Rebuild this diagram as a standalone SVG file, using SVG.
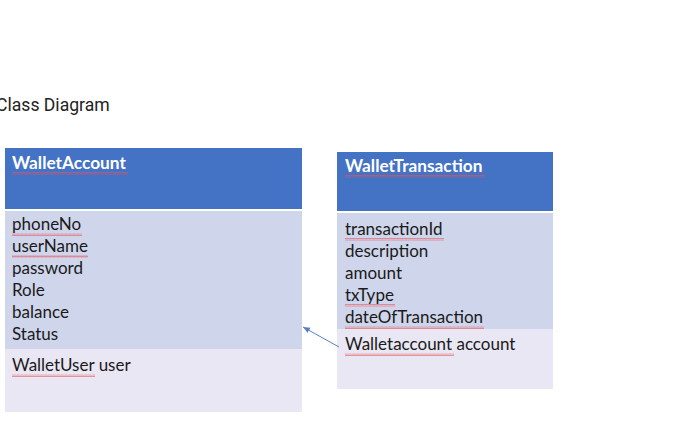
<svg xmlns="http://www.w3.org/2000/svg" width="676" height="426" viewBox="0 0 676 426">
<defs>
<style>
.t{font-family:Lato,"Liberation Sans",sans-serif;font-size:17px;fill:#1a1a1a}
.h{font-family:Lato,"Liberation Sans",sans-serif;font-size:17.3px;font-weight:bold;fill:#ffffff}
.hd{fill:#4472c4}
.at{fill:#cfd5ea}
.op{fill:#e9e7f3}
.sq{fill:url(#squig)}
.title{font-family:Roboto,"Liberation Sans",sans-serif;font-size:17.6px;fill:#222}
</style>
<pattern id="squig" width="4" height="3" patternUnits="userSpaceOnUse">
<path d="M0 2.5 L1 0.5 L2 2.5 L3 0.5 L4 2.5" fill="none" stroke="#e8555a" stroke-width="0.6"/>
</pattern>
<marker id="arr" markerWidth="8" markerHeight="8" refX="7" refY="4" orient="auto" markerUnits="userSpaceOnUse">
<path d="M0 1 L7 4 L0 7 Z" fill="#5b7fc4"/>
</marker>
</defs>
<rect width="676" height="426" fill="#ffffff"/>
<text class="title" x="-4" y="111">Class Diagram</text>

<g id="WalletAccount">
<rect class="hd" x="5" y="148" width="297" height="61"/>
<rect class="at" x="5" y="211" width="297" height="138"/>
<rect class="op" x="5" y="349" width="297" height="63"/>
<text class="h" x="12" y="169">WalletAccount</text>
<rect class="sq" x="12" y="172" width="116" height="3"/>
<text class="t" x="12" y="230">phoneNo</text>
<rect class="sq" x="12" y="233" width="70" height="3"/>
<text class="t" x="12" y="252">userName</text>
<rect class="sq" x="12" y="255" width="76" height="3"/>
<text class="t" x="12" y="274">password</text>
<text class="t" x="12" y="296">Role</text>
<text class="t" x="12" y="318">balance</text>
<text class="t" x="12" y="340">Status</text>
<text class="t" x="12" y="371">WalletUser user</text>
<rect class="sq" x="12" y="374" width="83" height="3"/>
</g>

<g id="WalletTransaction">
<rect class="hd" x="337" y="152" width="216" height="59"/>
<rect class="at" x="337" y="213" width="216" height="116"/>
<rect class="op" x="337" y="329" width="216" height="60"/>
<text class="h" x="345" y="172">WalletTransaction</text>
<rect class="sq" x="345" y="175" width="140" height="3"/>
<text class="t" x="345" y="235">transactionId</text>
<rect class="sq" x="345" y="238" width="99" height="3"/>
<text class="t" x="345" y="257">description</text>
<text class="t" x="345" y="279">amount</text>
<text class="t" x="345" y="301">txType</text>
<rect class="sq" x="345" y="304" width="50" height="3"/>
<text class="t" x="345" y="323">dateOfTransaction</text>
<rect class="sq" x="345" y="326" width="139" height="3"/>
<text class="t" x="345" y="350">Walletaccount account</text>
<rect class="sq" x="345" y="353" width="109" height="3"/>
</g>

<g id="connectors">
<line x1="339" y1="347" x2="303" y2="327" stroke="#5b7fc4" stroke-width="1" marker-end="url(#arr)"/>
</g>
</svg>
